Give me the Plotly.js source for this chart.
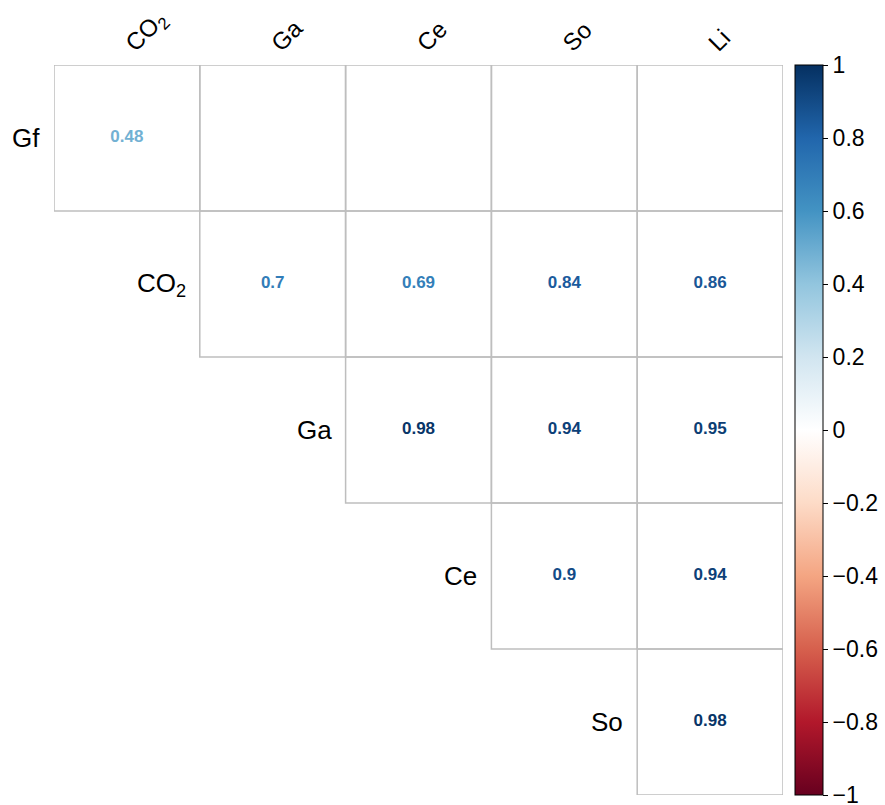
<!DOCTYPE html>
<html>
<head>
<meta charset="utf-8">
<script src="https://cdn.plot.ly/plotly-3.0.1.min.js"></script>
<style>html,body{margin:0;padding:0;background:#fff;}#chart{width:885px;height:805px;}</style>
</head>
<body>
<div id="chart"></div>
<script>
// Row variables (top to bottom) and column variables (left to right)
const rowLabels = ['Gf', 'CO<sub>2</sub>', 'Ga', 'Ce', 'So'];
const colLabels = ['CO<sub>2</sub>', 'Ga', 'Ce', 'So', 'Li'];

// Correlation values per row (null = blank cell)
const rowGf  = [0.48, null, null, null, null];
const rowCO2 = [null, 0.7, 0.69, 0.84, 0.86];
const rowGa  = [null, null, 0.98, 0.94, 0.95];
const rowCe  = [null, null, null, 0.9, 0.94];
const rowSo  = [null, null, null, null, 0.98];
const matrix = [rowGf, rowCO2, rowGa, rowCe, rowSo];

// Colorbar ticks
const cbTickVals = [-1, -0.8, -0.6, -0.4, -0.2, 0, 0.2, 0.4, 0.6, 0.8, 1];
const cbTickText = ['\u22121', '\u22120.8', '\u22120.6', '\u22120.4', '\u22120.2', '0', '0.2', '0.4', '0.6', '0.8', '1'];

// corrplot RdBu palette
const palette = ['#67001F', '#B2182B', '#D6604D', '#F4A582', '#FDDBC7', '#FFFFFF', '#D1E5F0', '#92C5DE', '#4393C3', '#2166AC', '#053061'];
const colorscale = palette.map((c, k) => [k / (palette.length - 1), c]);

function hexToRgb(h) { return [parseInt(h.slice(1,3),16), parseInt(h.slice(3,5),16), parseInt(h.slice(5,7),16)]; }
function colorFor(v) {
  const t = (v + 1) / 2 * (palette.length - 1);
  const k = Math.min(Math.floor(t), palette.length - 2);
  const f = t - k;
  const a = hexToRgb(palette[k]), b = hexToRgb(palette[k + 1]);
  const c = a.map((x, n) => Math.round(x + (b[n] - x) * f));
  return 'rgb(' + c.join(',') + ')';
}

const xs = [], ys = [], vals = [], texts = [], tcolors = [];
const shapes = [];
const gridColor = '#BEBEBE';
for (let i = 0; i < matrix.length; i++) {
  for (let j = 0; j < colLabels.length; j++) {
    if (j < i) continue;
    shapes.push({type: 'rect', xref: 'x', yref: 'y', x0: j - 0.5, x1: j + 0.5, y0: i - 0.5, y1: i + 0.5,
      line: {color: gridColor, width: 1.5}, fillcolor: 'rgba(0,0,0,0)', layer: 'above'});
    const v = matrix[i][j];
    if (v === null) continue;
    xs.push(j); ys.push(i); vals.push(v); texts.push(String(v)); tcolors.push(colorFor(v));
  }
}

const FONT = 'Liberation Sans, Arial, sans-serif';
const annotations = rowLabels.map((lab, i) => ({
  x: i - 0.5, y: i, xref: 'x', yref: 'y', text: lab, showarrow: false,
  xanchor: 'right', yanchor: 'middle', xshift: -12,
  font: {family: FONT, size: 26, color: '#000'}
}));

const trace = {
  type: 'scatter', mode: 'markers+text', x: xs, y: ys, text: texts,
  textposition: 'middle center',
  textfont: {family: FONT, size: 17, color: tcolors, weight: 'bold'},
  texttemplate: '<b>%{text}</b>',
  hoverinfo: 'skip',
  marker: {
    size: 1, opacity: 0, color: vals, colorscale: colorscale, cmin: -1, cmax: 1, showscale: true,
    colorbar: {
      x: 1.0165, xanchor: 'left', xref: 'paper', y: 0.5, yanchor: 'middle', len: 1, lenmode: 'fraction',
      thickness: 28, thicknessmode: 'pixels', outlinecolor: '#000', outlinewidth: 1,
      tickmode: 'array', tickvals: cbTickVals, ticktext: cbTickText,
      ticks: 'outside', ticklen: 5, tickcolor: '#000', tickwidth: 1, ticklabeloverflow: 'allow',
      tickfont: {family: FONT, size: 23, color: '#000'},
      xpad: 0, ypad: 0
    }
  },
  showlegend: false
};

const layout = {
  width: 885, height: 805,
  margin: {l: 54, r: 102, t: 65, b: 10, autoexpand: false},
  paper_bgcolor: '#fff', plot_bgcolor: '#fff',
  xaxis: {
    range: [-0.5, 4.5], side: 'top', tickmode: 'array', tickvals: colLabels.map((_, j) => j), ticktext: colLabels,
    tickangle: -45, showgrid: false, zeroline: false, showline: false, ticks: '', ticklabelstandoff: 3,
    tickfont: {family: FONT, size: 24, color: '#000'}, fixedrange: true
  },
  yaxis: {
    range: [4.5, -0.5], showticklabels: false, showgrid: false, zeroline: false, showline: false, ticks: '', fixedrange: true
  },
  shapes: shapes,
  annotations: annotations
};

Plotly.newPlot('chart', [trace], layout, {displayModeBar: false, staticPlot: true});
</script>
</body>
</html>
